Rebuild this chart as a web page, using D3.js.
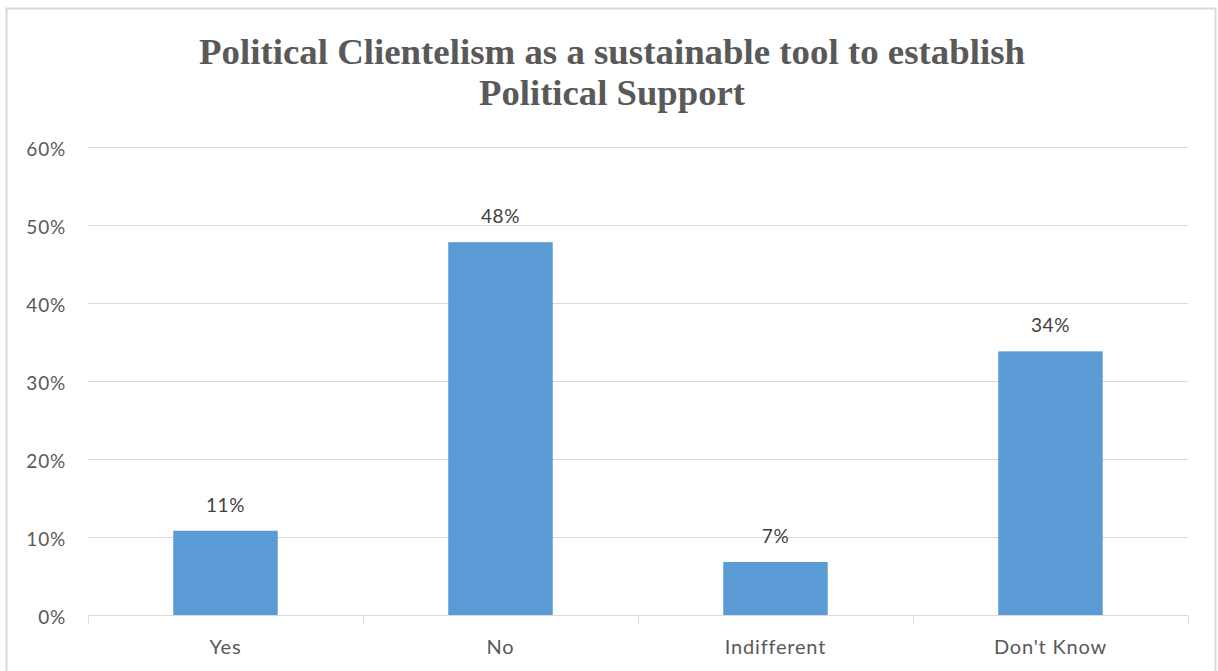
<!DOCTYPE html>
<html><head><meta charset="utf-8">
<script src="https://cdn.jsdelivr.net/npm/d3@7/dist/d3.min.js"></script>
<style>html,body{margin:0;padding:0;background:#fff;}</style>
</head><body>
<svg id="c" width="1218" height="671"></svg>
<script>
const categories = ["Yes", "No", "Indifferent", "Don't Know"];
const values = [10.8, 47.8, 6.8, 33.8];
const valueLabels = ["11%", "48%", "7%", "34%"];
const yTicks = [0, 10, 20, 30, 40, 50, 60];
const titleLines = ["Political Clientelism as a sustainable tool to establish", "Political Support"];

const svg = d3.select("#c");
const m = {left: 88, right: 1188, top: 147, bottom: 615};
const sans = "Lato, 'Open Sans', sans-serif";

svg.append("rect").attr("x", 6.5).attr("y", 8.5).attr("width", 1209).attr("height", 680)
  .attr("fill", "#fff").attr("stroke", "#d9d9d9").attr("stroke-width", 2);

const x = d3.scaleBand().domain(categories).range([m.left, m.right]).paddingInner(0.62).paddingOuter(0.31);
const y = d3.scaleLinear().domain([0, 60]).range([m.bottom, m.top]);

// gridlines
svg.append("g").selectAll("line").data(yTicks.filter(d => d > 0)).join("line")
  .attr("x1", m.left).attr("x2", m.right)
  .attr("y1", d => y(d) + 0.5).attr("y2", d => y(d) + 0.5)
  .attr("stroke", "#d9d9d9").attr("stroke-width", 1);

// y labels
svg.append("g").selectAll("text").data(yTicks).join("text")
  .attr("x", 66).attr("y", d => y(d) + 2).attr("dy", "0.35em")
  .attr("text-anchor", "end").attr("font-family", sans).attr("letter-spacing", 0.8)
  .attr("font-size", 19).attr("fill", "#595959").text(d => d + "%");

// bars
svg.append("g").selectAll("rect").data(values).join("rect")
  .attr("x", (d, i) => x(categories[i])).attr("width", x.bandwidth())
  .attr("y", d => y(d)).attr("height", d => y(0) - y(d))
  .attr("fill", "#5b9bd5");

// value labels
svg.append("g").selectAll("text").data(values).join("text")
  .attr("x", (d, i) => x(categories[i]) + x.bandwidth() / 2).attr("y", d => y(d) - 19)
  .attr("text-anchor", "middle").attr("font-family", sans).attr("letter-spacing", 0.6)
  .attr("font-size", 19).attr("fill", "#404040").text((d, i) => valueLabels[i]);

// x axis
const gx = svg.append("g").attr("transform", `translate(0,${m.bottom + 0.5})`);
gx.append("line").attr("x1", m.left).attr("x2", m.right).attr("stroke", "#d9d9d9").attr("stroke-width", 1);
const bounds = d3.range(categories.length + 1).map(i => m.left + i * x.step());
gx.selectAll("line.tk").data(bounds).join("line").attr("class", "tk")
  .attr("x1", d => Math.round(d) + 0.5).attr("x2", d => Math.round(d) + 0.5)
  .attr("y1", 0).attr("y2", 8).attr("stroke", "#d9d9d9");
gx.selectAll("text").data(categories).join("text")
  .attr("x", d => x(d) + x.bandwidth() / 2).attr("y", 38)
  .attr("text-anchor", "middle").attr("font-family", sans).attr("letter-spacing", 0.8)
  .attr("font-size", 20).attr("fill", "#595959").text(d => d);

// title
const tl = [{t: titleLines[0], y: 64, w: 826}, {t: titleLines[1], y: 105, w: 266}];
svg.append("g").selectAll("text").data(tl).join("text")
  .attr("x", 612).attr("y", d => d.y).attr("text-anchor", "middle")
  .attr("font-family", "'Liberation Serif', 'Times New Roman', serif").attr("font-weight", "bold")
  .attr("font-size", 36).attr("fill", "#595959")
  .attr("textLength", d => d.w).attr("lengthAdjust", "spacingAndGlyphs")
  .text(d => d.t);
</script>
</body></html>
